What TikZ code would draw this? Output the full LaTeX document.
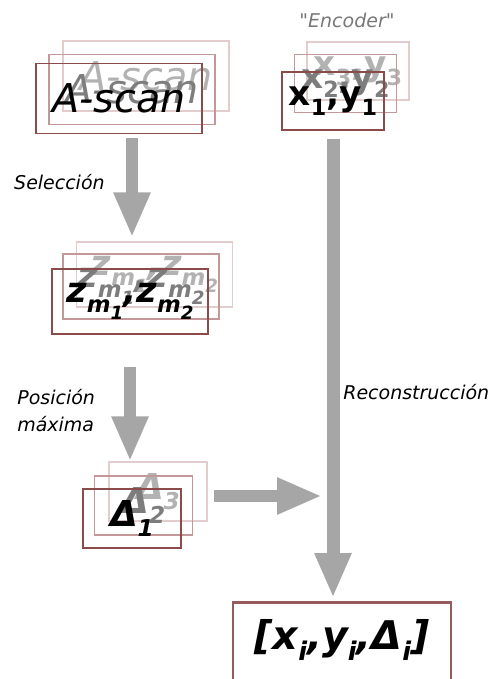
\documentclass[tikz,border=0pt]{standalone}
\usepackage{fontspec}
\setmainfont{DejaVu Sans}[Ligatures=TeXOff]
\usepackage{graphicx}
\usetikzlibrary{arrows.meta,calc}

\definecolor{boxred}{RGB}{139,75,75}
\definecolor{boxmid}{RGB}{196,152,152}
\definecolor{boxback}{RGB}{226,204,204}
\definecolor{boxfinal}{RGB}{152,90,90}
\definecolor{arrowgray}{RGB}{166,166,166}
\definecolor{textmid}{RGB}{125,125,125}
\definecolor{textback}{RGB}{178,178,178}
\definecolor{encgray}{RGB}{120,120,120}

% lowered index, scaled down
\newcommand{\lo}[2][0.65]{\raisebox{-0.28em}{\scalebox{#1}{#2}}}

\tikzset{
  frontbox/.style={draw=boxred, line width=0.7pt, inner sep=0pt},
  midbox/.style={draw=boxmid, line width=0.7pt, inner sep=0pt, text=textmid},
  backbox/.style={draw=boxback, line width=0.7pt, inner sep=0pt, text=textback},
  scanbox/.style={minimum width=3.32cm, minimum height=1.4cm, font=\itshape\fontsize{22.6}{27}\selectfont},
  xybox/.style={minimum width=2.04cm, minimum height=1.16cm, font=\bfseries\fontsize{19.5}{24}\selectfont},
  zbox/.style={minimum width=3.12cm, minimum height=1.3cm, font=\bfseries\itshape\fontsize{20}{24}\selectfont},
  deltabox/.style={minimum width=1.96cm, minimum height=1.18cm, font=\bfseries\itshape\fontsize{20.3}{24}\selectfont},
  bigarrow/.style={draw=arrowgray, line width=0.23cm, -{Triangle[length=0.9cm,width=0.68cm]}},
  steplabel/.style={inner sep=0pt, font=\itshape\fontsize{10.8}{15.4}\selectfont}
}

\begin{document}
\begin{tikzpicture}[x=0.02cm, y=-0.02cm]
    \useasboundingbox (0,0) rectangle (495,679);

    % the A-scan stack
    \node[backbox, scanbox] (ascanC) at (146,76) {A-scan};
    \node[midbox, scanbox] (ascanB) at (132,89.5) {A-scan};
    \node[frontbox, scanbox] (ascan) at (119,98.5) {A-scan};

    % the selected maxima
    \node[backbox, zbox] (zC) at (154.5,274.5) {z\lo{m\lo[0.8]{1}},z\lo{m\lo[0.8]{2}}};
    \node[midbox, zbox] (zB) at (141,286.5) {z\lo{m\lo[0.8]{1}},z\lo{m\lo[0.8]{2}}};
    \node[frontbox, zbox] (z) at (130,301.5) {z\lo{m\lo[0.8]{1}},z\lo{m\lo[0.8]{2}}};

    % the positions
    \node[backbox, deltabox] (dC) at (158,491.5) {Δ\lo{3}};
    \node[midbox, deltabox] (dB) at (143.5,505.5) {Δ\lo{2}};
    \node[frontbox, deltabox] (d) at (132,518.5) {Δ\lo{1}};

    % the encoder stack
    \node[backbox, xybox] (xyC) at (358,71) {x\lo{3},y\lo{3}};
    \node[midbox, xybox] (xyB) at (345.5,83.5) {x\lo{2},y\lo{2}};
    \node[frontbox, xybox] (xy) at (333,101) {x\lo{1},y\lo{1}};

    % the result
    \node[draw=boxfinal, line width=1.5pt, inner sep=0pt, anchor=north, minimum width=4.36cm,
          text height=0.94cm, text depth=0.9cm, font=\bfseries\itshape\fontsize{22.5}{28}\selectfont]
          (result) at (342,601) {{[}x\lo{i},y\lo{i},Δ\lo{i}{]}};

    % the texts
    \node[steplabel, text=encgray] (enc) at (347,20) {"Encoder"};
    \node[steplabel, anchor=east] (sel) at (105,182) {Selección};
    \node[steplabel, anchor=west, align=left] (pos) at (17,411) {Posición\\máxima};
    \node[steplabel, anchor=west] (rec) at (343,392) {Reconstrucción};

    % draw the arrows
    \draw[bigarrow, shorten <=0.08cm, shorten >=0.08cm] (ascanB.center |- ascan.south) -- (ascanB.center |- zC.north);
    \draw[bigarrow, shorten <=0.64cm] (z.south) -- (z.south |- dC.north);
    \draw[bigarrow, line width=0.26cm, shorten <=0.16cm, shorten >=0.06cm] (xy.south) -- (xy.south |- result.north);
    \coordinate (hstart) at ([yshift=-0.09cm]dC.east);
    \draw[bigarrow, line width=0.24cm, shorten <=0.12cm, shorten >=0.22cm] (hstart) -- (hstart -| xy.south);
\end{tikzpicture}
\end{document}
